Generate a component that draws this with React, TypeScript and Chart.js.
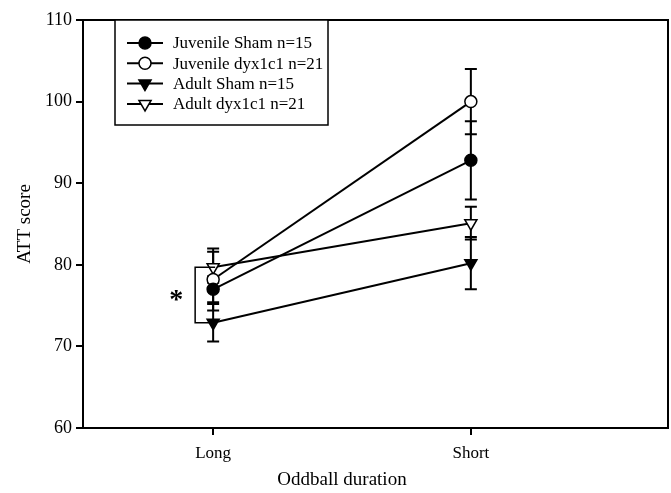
import React, { useEffect, useRef } from 'react';
import { Chart, registerables } from 'chart.js';
import { drawPoint } from 'chart.js/helpers';

Chart.register(...registerables);

const FONT = '"Liberation Serif", "Times New Roman", Times, serif';

// ---- data ----
const categories = ['Long', 'Short'];
const xPositions = [1, 2];
const yTicks = [60, 70, 80, 90, 100, 110];

const seriesLabels = [
  'Juvenile Sham n=15',
  'Juvenile dyx1c1 n=21',
  'Adult Sham n=15',
  'Adult dyx1c1 n=21',
];
const juvenileShamMean = [77.0, 92.8];
const juvenileShamErr = [1.6, 4.8];
const juvenileDyxMean = [78.2, 100.0];
const juvenileDyxErr = [3.8, 4.0];
const adultShamMean = [72.9, 80.2];
const adultShamErr = [2.3, 3.2];
const adultDyxMean = [79.7, 85.1];
const adultDyxErr = [1.9, 2.0];

const xTitle = 'Oddball duration';
const yTitle = 'ATT score';
const sigMark = '*';

const means = [juvenileShamMean, juvenileDyxMean, adultShamMean, adultDyxMean];
const errs = [juvenileShamErr, juvenileDyxErr, adultShamErr, adultDyxErr];

// ---- styles ----
const markerStyles = [
  { pointStyle: 'circle', fill: '#000', radius: 6, rotation: 0 },
  { pointStyle: 'circle', fill: '#fff', radius: 6, rotation: 0 },
  { pointStyle: 'triangle', fill: '#000', radius: 7, rotation: 180 },
  { pointStyle: 'triangle', fill: '#fff', radius: 7, rotation: 180 },
];

const errorBarPlugin = {
  id: 'errorBars',
  beforeDatasetsDraw(chart: any) {
    const ctx = chart.ctx;
    const y = chart.scales.y;
    ctx.save();
    ctx.strokeStyle = '#000';
    ctx.lineWidth = 2;
    chart.data.datasets.forEach((ds: any, i: number) => {
      const meta = chart.getDatasetMeta(i);
      meta.data.forEach((pt: any, j: number) => {
        const m = means[i][j];
        const e = errs[i][j];
        const yt = y.getPixelForValue(m + e);
        const yb = y.getPixelForValue(m - e);
        const x = pt.x;
        ctx.beginPath();
        ctx.moveTo(x, yt);
        ctx.lineTo(x, yb);
        ctx.moveTo(x - 6, yt);
        ctx.lineTo(x + 6, yt);
        ctx.moveTo(x - 6, yb);
        ctx.lineTo(x + 6, yb);
        ctx.stroke();
      });
    });
    ctx.restore();
  },
};

const decorPlugin = {
  id: 'decor',
  afterDraw(chart: any) {
    const ctx = chart.ctx;
    const { left, top, right, bottom } = chart.chartArea;
    const xs = chart.scales.x;
    const ys = chart.scales.y;
    ctx.save();
    // frame
    ctx.strokeStyle = '#000';
    ctx.lineWidth = 2;
    ctx.strokeRect(left, top, right - left, bottom - top);

    // significance bracket at Long
    const xl = xs.getPixelForValue(xPositions[0]);
    const yTop = ys.getPixelForValue(adultDyxMean[0]);
    const yBot = ys.getPixelForValue(adultShamMean[0]);
    ctx.lineWidth = 1.5;
    ctx.beginPath();
    ctx.moveTo(xl + 2, yTop);
    ctx.lineTo(xl - 18, yTop);
    ctx.lineTo(xl - 18, yBot);
    ctx.lineTo(xl + 2, yBot);
    ctx.stroke();
    ctx.fillStyle = '#000';
    ctx.font = `bold 28px ${FONT}`;
    ctx.textAlign = 'center';
    ctx.textBaseline = 'middle';
    ctx.fillText(sigMark, xl - 37, (yTop + yBot) / 2 + 6);

    // x title centered between categories
    ctx.font = `19px ${FONT}`;
    ctx.textBaseline = 'middle';
    ctx.fillText(xTitle, xs.getPixelForValue((xPositions[0] + xPositions[1]) / 2), 480);

    // legend box
    const bx = 115, by = 20, bw = 213, bh = 105;
    ctx.fillStyle = '#fff';
    ctx.fillRect(bx, by, bw, bh);
    ctx.lineWidth = 1.5;
    ctx.strokeRect(bx, by, bw, bh);
    ctx.font = `17px ${FONT}`;
    ctx.textAlign = 'left';
    seriesLabels.forEach((label, i) => {
      const ry = 43 + i * 20.3;
      ctx.strokeStyle = '#000';
      ctx.lineWidth = 2;
      ctx.beginPath();
      ctx.moveTo(127, ry);
      ctx.lineTo(163, ry);
      ctx.stroke();
      const ms = markerStyles[i];
      ctx.fillStyle = ms.fill;
      ctx.lineWidth = 1.5;
      drawPoint(ctx, { pointStyle: ms.pointStyle, rotation: ms.rotation, radius: ms.radius, borderWidth: 1.5 }, 145, ry);
      ctx.fillStyle = '#000';
      ctx.fillText(label, 173, ry + 1);
    });
    ctx.restore();
  },
};

export default function App() {
  const ref = useRef<HTMLCanvasElement>(null);
  useEffect(() => {
    if (!ref.current) return;
    const chart = new Chart(ref.current, {
      type: 'scatter',
      data: {
        datasets: seriesLabels.map((label, i) => ({
          label,
          data: xPositions.map((x, j) => ({ x, y: means[i][j] })),
          showLine: true,
          borderColor: '#000',
          borderWidth: 2,
          backgroundColor: markerStyles[i].fill,
          pointStyle: markerStyles[i].pointStyle as any,
          pointRadius: markerStyles[i].radius,
          pointRotation: markerStyles[i].rotation,
          pointBackgroundColor: markerStyles[i].fill,
          pointBorderColor: '#000',
          pointBorderWidth: 1.5,
        })),
      },
      options: {
        animation: false,
        responsive: false,
        layout: { autoPadding: false, padding: { top: 20, right: 3, left: 0, bottom: 0 } },
        plugins: { legend: { display: false }, tooltip: { enabled: false } },
        scales: {
          x: {
            type: 'linear',
            min: 0.495,
            max: 2.765,
            afterBuildTicks: (scale: any) => {
              scale.ticks = xPositions.map((v) => ({ value: v }));
            },
            afterFit: (scale: any) => {
              scale.height = 65;
              scale.paddingLeft = 0;
              scale.paddingRight = 0;
            },
            ticks: {
              color: '#000',
              font: { family: FONT, size: 17 },
              padding: 8,
              maxRotation: 0,
              callback: (v: any) => {
                const k = xPositions.indexOf(Number(v));
                return k >= 0 ? categories[k] : '';
              },
            },
            grid: { drawOnChartArea: false, drawTicks: true, tickLength: 7, color: '#000', lineWidth: 2 },
            border: { display: true, color: '#000', width: 2 },
          },
          y: {
            type: 'linear',
            min: yTicks[0],
            max: yTicks[yTicks.length - 1],
            afterBuildTicks: (scale: any) => {
              scale.ticks = yTicks.map((v) => ({ value: v }));
            },
            afterFit: (scale: any) => {
              scale.width = 83;
            },
            ticks: {
              color: '#000',
              font: { family: FONT, size: 18 },
              padding: 4,
            },
            title: {
              display: true,
              text: yTitle,
              color: '#000',
              font: { family: FONT, size: 19 },
              padding: { top: 14, bottom: 0 },
            },
            grid: { drawOnChartArea: false, drawTicks: true, tickLength: 7, color: '#000', lineWidth: 2 },
            border: { display: true, color: '#000', width: 2 },
          },
        },
      },
      plugins: [errorBarPlugin, decorPlugin],
    });
    return () => chart.destroy();
  }, []);
  return (
    <div style={{ position: 'fixed', left: 0, top: 0, width: 671, height: 493, background: '#fff' }}>
      <canvas ref={ref} width={671} height={493} style={{ display: 'block' }} />
    </div>
  );
}
